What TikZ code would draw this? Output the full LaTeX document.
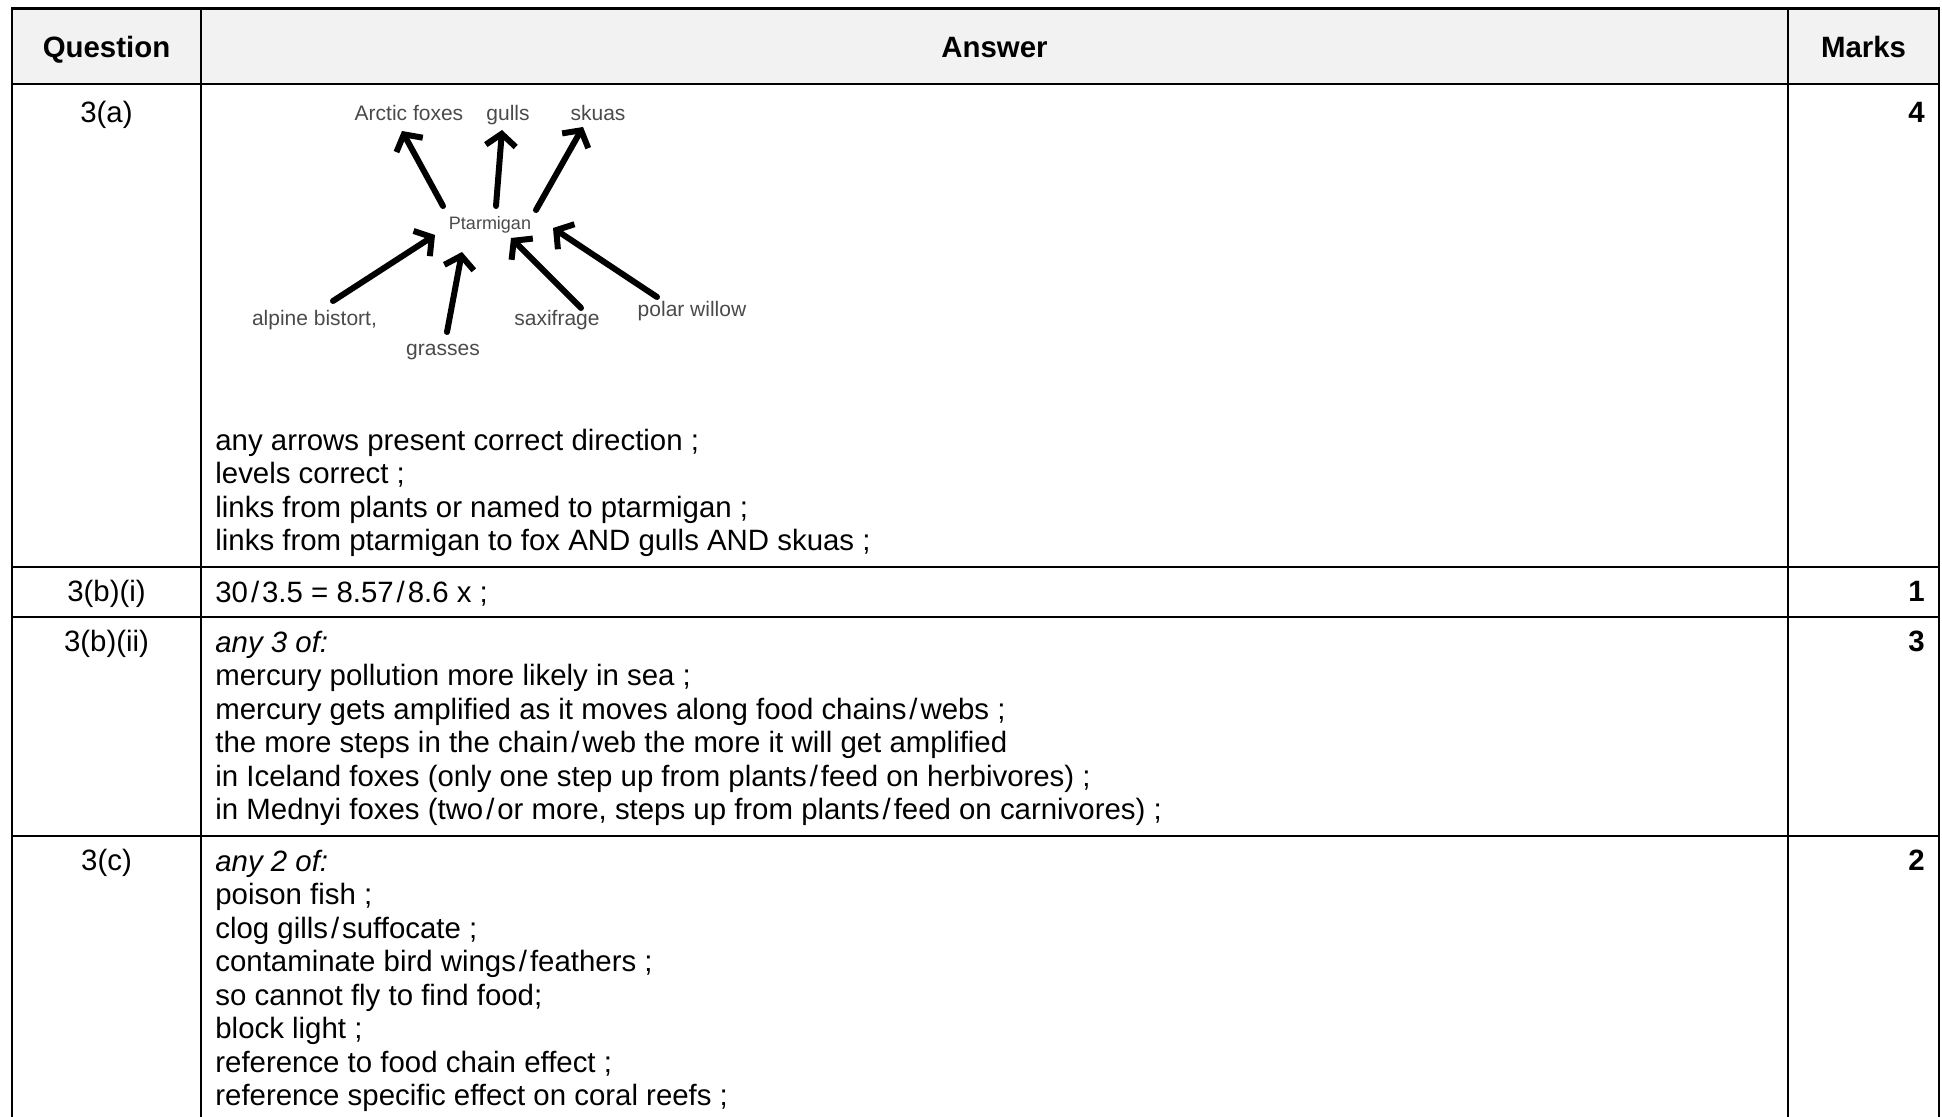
\documentclass[tikz,border=0pt]{standalone}
\usepackage{fontspec}
\setmainfont{Liberation Sans}
\usetikzlibrary{arrows.meta}
\definecolor{headgray}{HTML}{F2F2F2}
\definecolor{webgray}{HTML}{4A4A4A}
\newcommand{\orsl}{\kern0.1em/\kern0.1em}
\begin{document}
\begin{tikzpicture}[x=0.5pt, y=-0.5pt, every node/.style={inner sep=0pt},
    txt/.style={anchor=base west, font=\fontsize{14.7}{16.75}\selectfont},
    qlab/.style={anchor=base, font=\fontsize{14.7}{16.75}\selectfont},
    marklab/.style={anchor=base east, font=\fontsize{14.7}{16.75}\selectfont\bfseries},
    hd/.style={anchor=base, font=\fontsize{14.7}{16.75}\selectfont\bfseries},
    sp/.style={anchor=base, font=\fontsize{10.5}{12}\selectfont, text=webgray},
    feeds/.style={line width=3pt, line cap=round, -{Straight Barb[length=6pt,width=15pt]}},
    rule/.style={line width=1.3pt}]
\useasboundingbox (0,0) rectangle (1942,1117);
% table frame
\fill[headgray] (12,8.5) rectangle (1939,84);
\draw[rule] (12,1117) -- (12,8.5) -- (1939,8.5) -- (1939,1117);
\foreach \y in {84, 567, 617, 836}
    \draw[rule] (12,\y) -- (1939,\y);
\foreach \x in {201, 1788}
    \draw[rule] (\x,8.5) -- (\x,1117);
% header
\node[hd] (hq) at (106.5,58) {Question};
\node[hd] (ha) at (994.5,58) {Answer};
\node[hd] (hm) at (1863.5,58) {Marks};
% question labels and marks
\node[qlab] (q1) at (106.5,122.5) {3(a)};
\node[qlab] (q2) at (106.5,601.5) {3(b)(i)};
\node[qlab] (q3) at (106.5,651.5) {3(b)(ii)};
\node[qlab] (q4) at (106.5,870.5) {3(c)};
\node[marklab] (m1) at (1925,122.5) {4};
\node[marklab] (m2) at (1925,601.5) {1};
\node[marklab] (m3) at (1925,651.5) {3};
\node[marklab] (m4) at (1925,870.5) {2};
% food web
\node[sp] (fox) at (409,121) {Arctic foxes};
\node[sp] (gul) at (508,121) {gulls};
\node[sp] (sku) at (598,121) {skuas};
\node[sp, font=\fontsize{9}{11}\selectfont] (ptm) at (490,230) {Ptarmigan};
\node[sp] (bis) at (314.5,326) {alpine bistort,};
\node[sp] (gra) at (443,356) {grasses};
\node[sp] (sax) at (557,326) {saxifrage};
\node[sp] (wil) at (692,317) {polar willow};
\coordinate (fox-t) at (443,206);  \coordinate (fox-h) at (402,131);
\coordinate (gul-t) at (496,206);  \coordinate (gul-h) at (502,130);
\coordinate (sku-t) at (536,210);  \coordinate (sku-h) at (583,127);
\coordinate (bis-t) at (333,301);  \coordinate (bis-h) at (435,235);
\coordinate (gra-t) at (447,332);  \coordinate (gra-h) at (462,252);
\coordinate (sax-t) at (581,308);  \coordinate (sax-h) at (511,238);
\coordinate (wil-t) at (657,297);  \coordinate (wil-h) at (553,228);
\foreach \n in {fox, gul, sku, bis, gra, sax, wil}
    \draw[feeds] (\n-t) -- (\n-h);
% answers
\foreach \t [count=\i from 0] in {any arrows present correct direction ;,
    levels correct ;, links from plants or named to ptarmigan ;,
    links from ptarmigan to fox AND gulls AND skuas ;}
    \node[txt] (a\i) at (215,450+33.5*\i) {\t};
\node[txt] (b0) at (215,602) {30\orsl 3.5 = 8.57\orsl 8.6 x ;};
\foreach \t [count=\i from 0] in {\textit{any 3 of:}, mercury pollution more likely in sea ;,
    mercury gets amplified as it moves along food chains\orsl webs ;,
    the more steps in the chain\orsl web the more it will get amplified,
    in Iceland foxes (only one step up from plants\orsl feed on herbivores) ;,
    {in Mednyi foxes (two\orsl or more, steps up from plants\orsl feed on carnivores) ;}}
    \node[txt] (c\i) at (215,652+33.5*\i) {\t};
\foreach \t [count=\i from 0] in {\textit{any 2 of:}, poison fish ;,
    clog gills\orsl suffocate ;, contaminate bird wings\orsl feathers ;,
    so cannot fly to find food;, block light ;, reference to food chain effect ;,
    reference specific effect on coral reefs ;}
    \node[txt] (d\i) at (215,871+33.5*\i) {\t};
\end{tikzpicture}
\end{document}
